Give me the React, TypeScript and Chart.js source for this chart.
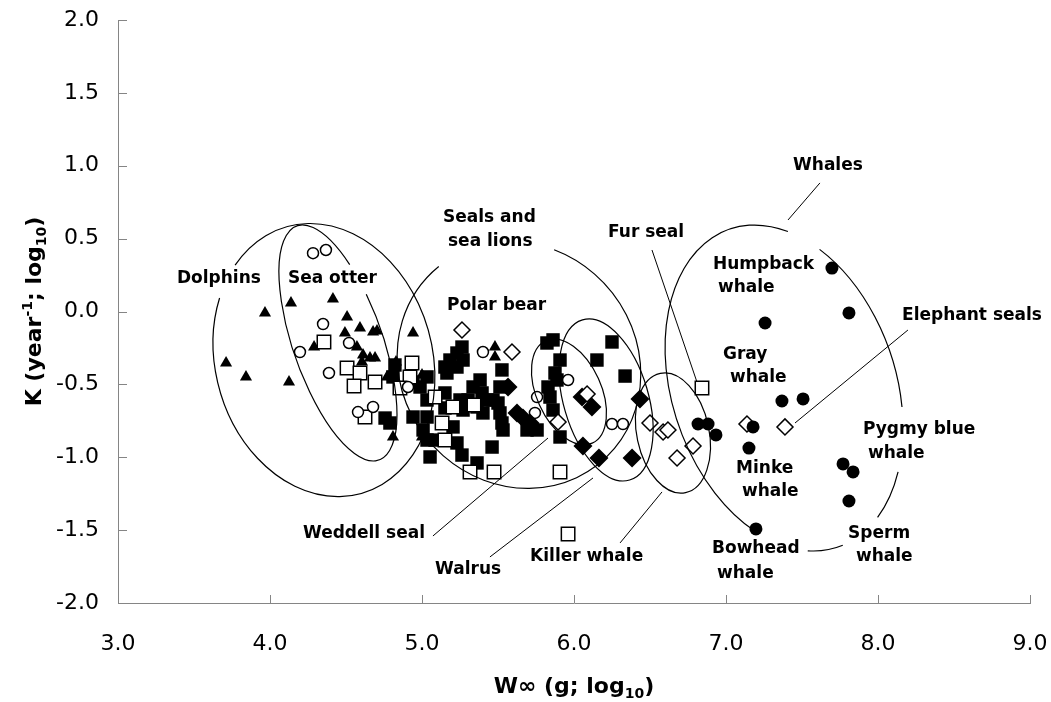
import { useEffect, useRef } from "react";
import { Chart, registerables } from "chart.js";

Chart.register(...registerables);

// ---------- DATA (log10 W∞ in g, log10 K per year) ----------
const triangles: [number, number][] = [
  [3.711, -0.353], [3.842, -0.449], [3.967, -0.01], [4.138, 0.058], [4.414, 0.086],
  [4.125, -0.484], [4.507, -0.038], [4.592, -0.113], [4.493, -0.148], [4.678, -0.141],
  [4.704, -0.134], [4.29, -0.244], [4.572, -0.244], [4.612, -0.298], [4.658, -0.319],
  [4.691, -0.319], [4.605, -0.346], [4.77, -0.449], [4.829, -0.346], [4.941, -0.148],
  [4.809, -0.861], [5.0, -0.861], [5.0, -0.436], [5.48, -0.244], [5.48, -0.312],
];

const openCircles: [number, number][] = [
  [4.283, 0.4], [4.368, 0.422], [4.349, -0.086], [4.197, -0.278], [4.388, -0.422],
  [4.52, -0.216], [4.579, -0.69], [4.678, -0.655], [4.908, -0.518], [5.401, -0.278],
  [5.757, -0.587], [5.743, -0.696], [5.961, -0.47], [6.25, -0.772], [6.322, -0.772],
];

const openSquares: [number, number][] = [
  [4.355, -0.209], [4.507, -0.388], [4.592, -0.422], [4.553, -0.511], [4.691, -0.484],
  [4.625, -0.724], [4.934, -0.353], [4.921, -0.449], [4.855, -0.525], [5.086, -0.587],
  [5.132, -0.765], [5.151, -0.882], [5.204, -0.655], [5.342, -0.642], [5.316, -1.101],
  [5.474, -1.101], [5.908, -1.101], [5.961, -1.527], [6.842, -0.525],
];

const filledSquares: [number, number][] = [
  [4.757, -0.731], [4.789, -0.765], [4.809, -0.449], [4.822, -0.367], [4.941, -0.484],
  [4.987, -0.518], [5.033, -0.449], [4.941, -0.724], [5.033, -0.607], [5.033, -0.724],
  [5.007, -0.813], [5.053, -0.998], [5.086, -0.882], [5.033, -0.882], [5.151, -0.381],
  [5.184, -0.333], [5.23, -0.285], [5.263, -0.244], [5.164, -0.422], [5.23, -0.381],
  [5.27, -0.333], [5.151, -0.559], [5.151, -0.662], [5.25, -0.607], [5.27, -0.676],
  [5.204, -0.792], [5.23, -0.902], [5.263, -0.985], [5.303, -0.607], [5.336, -0.518],
  [5.382, -0.47], [5.395, -0.559], [5.362, -0.655], [5.401, -0.696], [5.428, -0.607],
  [5.467, -0.607], [5.5, -0.628], [5.513, -0.696], [5.526, -0.401], [5.513, -0.518],
  [5.526, -0.765], [5.533, -0.813], [5.461, -0.93], [5.362, -1.039], [5.691, -0.813],
  [5.757, -0.813], [5.822, -0.216], [5.862, -0.195], [5.908, -0.333], [5.875, -0.422],
  [5.888, -0.47], [5.829, -0.518], [5.842, -0.587], [5.862, -0.676], [5.908, -0.861],
  [6.151, -0.333], [6.25, -0.209], [6.336, -0.443],
];

const filledDiamonds: [number, number][] = [
  [5.566, -0.518], [5.625, -0.696], [5.664, -0.731], [5.711, -0.765], [6.053, -0.587],
  [6.118, -0.655], [6.059, -0.923], [6.164, -1.005], [6.382, -1.005], [6.434, -0.6],
];

const openDiamonds: [number, number][] = [
  [5.263, -0.127], [5.592, -0.278], [5.895, -0.758], [6.086, -0.566], [6.5, -0.765],
  [6.586, -0.827], [6.618, -0.813], [6.678, -1.005], [6.783, -0.923], [7.138, -0.772],
  [7.388, -0.792],
];

const filledCircles: [number, number][] = [
  [7.697, 0.298], [7.809, -0.01], [7.257, -0.079], [7.368, -0.614], [7.507, -0.6],
  [6.816, -0.772], [6.882, -0.772], [6.934, -0.847], [7.178, -0.792], [7.151, -0.937],
  [7.77, -1.046], [7.836, -1.101], [7.809, -1.3], [7.197, -1.492],
];

// ---------- ANNOTATIONS (in axis units) ----------
type Ellipse = { cx: number; cy: number; a: number; b: number; rot: number; gaps: number[][] };
const ellipses: Ellipse[] = [
  { cx: 4.355, cy: -0.333, a: 0.911, b: 0.714, rot: 74.5, gaps: [[3.757, 0.333, 3.658, 0.099]] },
  { cx: 4.447, cy: -0.216, a: 0.816, b: 0.295, rot: 70.7, gaps: [[4.526, 0.333, 4.638, 0.127]] },
  { cx: 5.638, cy: -0.367, a: 0.836, b: 0.776, rot: 50, gaps: [[5.118, 0.299, 5.875, 0.443]] },
  { cx: 5.967, cy: -0.552, a: 0.37, b: 0.2125, rot: 65.6, gaps: [] },
  { cx: 6.211, cy: -0.607, a: 0.549, b: 0.279, rot: 73.6, gaps: [] },
  { cx: 6.651, cy: -0.834, a: 0.401, b: 0.2375, rot: 78, gaps: [] },
  {
    cx: 7.382, cy: -0.525, a: 1.105, b: 0.736, rot: 71.1,
    gaps: [
      [7.408, 0.58, 7.618, 0.436],
      [8.158, -0.655, 8.132, -1.101],
      [8.0, -1.417, 7.77, -1.609],
      [7.539, -1.65, 7.197, -1.492],
    ],
  },
];

const leaders: number[][] = [
  [7.618, 0.882, 7.408, 0.628],
  [6.513, 0.422, 6.809, -0.484],
  [8.197, -0.127, 7.454, -0.765],
  [5.072, -1.54, 5.829, -0.868],
  [5.447, -1.684, 6.125, -1.142],
  [6.303, -1.588, 6.579, -1.238],
];

const labels: { text: string; x: number; y: number }[] = [
  { text: "Dolphins", x: 3.388, y: 0.229 },
  { text: "Sea otter", x: 4.118, y: 0.229 },
  { text: "Seals and", x: 5.138, y: 0.642 },
  { text: "sea lions", x: 5.171, y: 0.477 },
  { text: "Polar bear", x: 5.164, y: 0.038 },
  { text: "Fur seal", x: 6.224, y: 0.539 },
  { text: "Whales", x: 7.441, y: 0.998 },
  { text: "Humpback", x: 6.914, y: 0.319 },
  { text: "whale", x: 6.947, y: 0.161 },
  { text: "Gray", x: 6.98, y: -0.298 },
  { text: "whale", x: 7.026, y: -0.456 },
  { text: "Elephant seals", x: 8.158, y: -0.031 },
  { text: "Pygmy blue", x: 7.901, y: -0.813 },
  { text: "whale", x: 7.934, y: -0.978 },
  { text: "Minke", x: 7.066, y: -1.081 },
  { text: "whale", x: 7.105, y: -1.238 },
  { text: "Sperm", x: 7.803, y: -1.527 },
  { text: "whale", x: 7.855, y: -1.684 },
  { text: "Bowhead", x: 6.908, y: -1.629 },
  { text: "whale", x: 6.941, y: -1.801 },
  { text: "Weddell seal", x: 4.217, y: -1.527 },
  { text: "Walrus", x: 5.086, y: -1.774 },
  { text: "Killer whale", x: 5.711, y: -1.684 },
];

const FONT = "'DejaVu Sans', Verdana, sans-serif";
const AXIS_GRAY = "#858585";
const TWO_PI = Math.PI * 2;

const toPts = (arr: [number, number][]) => arr.map(([x, y]) => ({ x, y }));
const norm = (t: number) => ((t % TWO_PI) + TWO_PI) % TWO_PI;

function drawRich(ctx: CanvasRenderingContext2D, segs: { t: string; size: number; dy: number }[], cx: number, baseY: number) {
  let total = 0;
  for (const s of segs) {
    ctx.font = `bold ${s.size}px ${FONT}`;
    total += ctx.measureText(s.t).width;
  }
  let x = cx - total / 2;
  ctx.textAlign = "left";
  ctx.textBaseline = "alphabetic";
  for (const s of segs) {
    ctx.font = `bold ${s.size}px ${FONT}`;
    ctx.fillText(s.t, x, baseY + s.dy);
    x += ctx.measureText(s.t).width;
  }
}

const annotationPlugin = {
  id: "annotations",
  afterDatasetsDraw(chart: any) {
    const { ctx } = chart;
    const xs = chart.scales.x;
    const ys = chart.scales.y;
    const ux = xs.getPixelForValue(1) - xs.getPixelForValue(0);
    ctx.save();
    ctx.strokeStyle = "#000";
    ctx.lineWidth = 1.2;
    for (const e of ellipses) {
      const cx = xs.getPixelForValue(e.cx);
      const cy = ys.getPixelForValue(e.cy);
      const A = e.a * ux;
      const B = e.b * ux;
      const th = (e.rot * Math.PI) / 180;
      const param = (px: number, py: number) => {
        const dx = xs.getPixelForValue(px) - cx;
        const dy = ys.getPixelForValue(py) - cy;
        const u = dx * Math.cos(th) + dy * Math.sin(th);
        const v = -dx * Math.sin(th) + dy * Math.cos(th);
        return norm(Math.atan2(v / B, u / A));
      };
      const gaps = e.gaps
        .map(([x1, y1, x2, y2]) => {
          const t1 = param(x1, y1);
          const t2 = param(x2, y2);
          const d = norm(t2 - t1);
          return d > Math.PI ? [t2, TWO_PI - d] : [t1, d];
        })
        .sort((p, q) => p[0] - q[0]);
      if (!gaps.length) {
        ctx.beginPath();
        ctx.ellipse(cx, cy, A, B, th, 0, TWO_PI);
        ctx.stroke();
      } else {
        for (let i = 0; i < gaps.length; i++) {
          const s = gaps[i][0] + gaps[i][1];
          let end = gaps[(i + 1) % gaps.length][0];
          while (end < s) end += TWO_PI;
          ctx.beginPath();
          ctx.ellipse(cx, cy, A, B, th, s, end);
          ctx.stroke();
        }
      }
    }
    ctx.lineWidth = 1;
    for (const [x1, y1, x2, y2] of leaders) {
      ctx.beginPath();
      ctx.moveTo(xs.getPixelForValue(x1), ys.getPixelForValue(y1));
      ctx.lineTo(xs.getPixelForValue(x2), ys.getPixelForValue(y2));
      ctx.stroke();
    }
    ctx.fillStyle = "#000";
    ctx.font = `bold 17px ${FONT}`;
    ctx.textAlign = "left";
    ctx.textBaseline = "middle";
    for (const l of labels) {
      ctx.fillText(l.text, xs.getPixelForValue(l.x), ys.getPixelForValue(l.y));
    }
    ctx.restore();
  },
  afterDraw(chart: any) {
    const { ctx, chartArea } = chart;
    const xs = chart.scales.x;
    const ys = chart.scales.y;
    ctx.save();
    ctx.strokeStyle = AXIS_GRAY;
    ctx.lineWidth = 1;
    for (const t of xs.ticks) {
      const px = Math.round(xs.getPixelForValue(t.value)) + 0.5;
      ctx.beginPath();
      ctx.moveTo(px, chartArea.bottom);
      ctx.lineTo(px, chartArea.bottom - 8);
      ctx.stroke();
    }
    for (const t of ys.ticks) {
      const py = Math.round(ys.getPixelForValue(t.value)) + 0.5;
      ctx.beginPath();
      ctx.moveTo(chartArea.left, py);
      ctx.lineTo(chartArea.left + 9, py);
      ctx.stroke();
    }
    // x tick labels
    ctx.fillStyle = "#000";
    ctx.font = `22px ${FONT}`;
    ctx.textAlign = "center";
    ctx.textBaseline = "middle";
    for (const t of xs.ticks) {
      ctx.fillText(Number(t.value).toFixed(1), xs.getPixelForValue(t.value), chartArea.bottom + 41);
    }
    drawRich(
      ctx,
      [
        { t: "W∞ (g; log", size: 22, dy: 0 },
        { t: "10", size: 14, dy: 5 },
        { t: ")", size: 22, dy: 0 },
      ],
      (chartArea.left + chartArea.right) / 2,
      693
    );
    ctx.translate(41, (chartArea.top + chartArea.bottom) / 2);
    ctx.rotate(-Math.PI / 2);
    drawRich(
      ctx,
      [
        { t: "K (year", size: 22, dy: 0 },
        { t: "-1", size: 14, dy: -9 },
        { t: "; log", size: 22, dy: 0 },
        { t: "10", size: 14, dy: 5 },
        { t: ")", size: 22, dy: 0 },
      ],
      0,
      0
    );
    ctx.restore();
  },
};

export default function App() {
  const ref = useRef<HTMLCanvasElement | null>(null);
  useEffect(() => {
    if (!ref.current) return;
    const solid = { backgroundColor: "#000", borderColor: "#000", borderWidth: 0 };
    const hollow = { backgroundColor: "#fff", borderColor: "#000", borderWidth: 1.5 };
    const chart = new Chart(ref.current, {
      type: "scatter",
      data: {
        datasets: [
          { label: "Whales", data: toPts(filledCircles), pointStyle: "circle", pointRadius: 6.5, ...solid },
          { label: "Open diamonds", data: toPts(openDiamonds), pointStyle: "rectRot", pointRadius: 8, ...hollow },
          { label: "Filled diamonds", data: toPts(filledDiamonds), pointStyle: "rectRot", pointRadius: 9.5, ...solid },
          { label: "Open circles", data: toPts(openCircles), pointStyle: "circle", pointRadius: 5.5, ...hollow },
          { label: "Open squares", data: toPts(openSquares), pointStyle: "rect", pointRadius: 9.5, ...hollow },
          { label: "Triangles", data: toPts(triangles), pointStyle: "triangle", pointRadius: 7, ...solid },
          { label: "Filled squares", data: toPts(filledSquares), pointStyle: "rect", pointRadius: 9.5, ...solid },
        ] as any,
      },
      options: {
        animation: false,
        responsive: false,
        maintainAspectRatio: false,
        events: [],
        layout: { padding: { top: 20, right: 21, left: 0, bottom: 0 } },
        plugins: { legend: { display: false }, tooltip: { enabled: false }, title: { display: false } },
        scales: {
          x: {
            type: "linear",
            min: 3,
            max: 9,
            ticks: { stepSize: 1, display: false },
            grid: { display: false, drawTicks: false },
            border: { display: true, color: AXIS_GRAY, width: 1 },
            afterFit: (s: any) => {
              s.height = 99;
              s.paddingLeft = 0;
              s.paddingRight = 0;
              s.paddingTop = 0;
              s.paddingBottom = 0;
            },
          },
          y: {
            type: "linear",
            min: -2,
            max: 2,
            ticks: {
              stepSize: 0.5,
              color: "#000",
              padding: 19,
              font: { family: FONT, size: 22 },
              callback: (v: any) => Number(v).toFixed(1),
            },
            grid: { display: false, drawTicks: false },
            border: { display: true, color: AXIS_GRAY, width: 1 },
            afterFit: (s: any) => {
              s.width = 118;
              s.paddingLeft = 0;
              s.paddingRight = 0;
              s.paddingTop = 0;
              s.paddingBottom = 0;
            },
          },
        },
      } as any,
      plugins: [annotationPlugin],
    });
    return () => chart.destroy();
  }, []);
  return (
    <div style={{ position: "absolute", left: 0, top: 0, width: 1051, height: 702, background: "#fff" }}>
      <canvas ref={ref} width={1051} height={702} style={{ display: "block" }} />
    </div>
  );
}
